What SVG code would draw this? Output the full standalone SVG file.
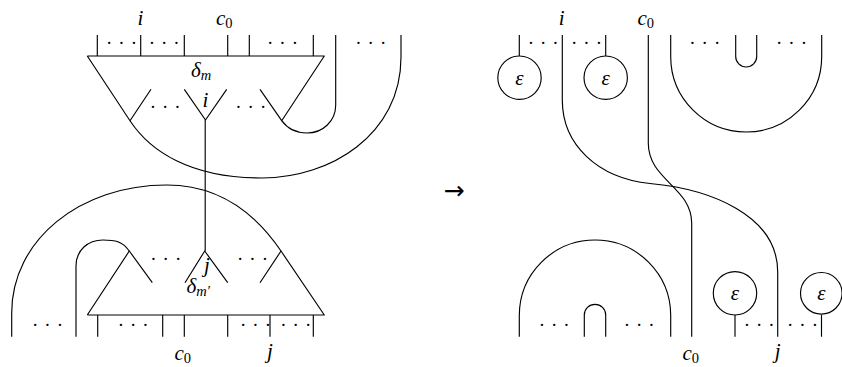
<svg xmlns="http://www.w3.org/2000/svg" width="842" height="367" viewBox="0 0 842 367">
<style>
.w{fill:none;stroke:#000;stroke-width:1.15;stroke-linejoin:round}
.t{font-family:"Liberation Serif",serif;font-size:21px;font-style:italic;fill:#000}
.s{font-size:14.5px;font-style:normal}
.si{font-size:14.5px;font-style:italic}
.d{font-family:"Liberation Serif",serif;font-size:19px;letter-spacing:6px;fill:#000}
.a{font-family:"DejaVu Sans",sans-serif;font-size:25px;fill:#000}
</style>
<rect width="842" height="367" fill="#fff"/>
<g id="connectors">
  <path class="w" d="M97.3,35V56M140.7,35V56M184.3,35V56M227.7,35V56M249.3,35V56M313.3,35V56"/>
  <path class="w" d="M335.7,35V105C335.7,121 323,133 307,133C296,133 287,128 281.7,120.7"/>
  <path class="w" d="M130,120.7C150,151 190,178 262,178C330,178 401,135 401,57V35"/>
  <path class="w" d="M205.2,120V251"/>
  <path class="w" d="M11.7,336.7V313C11.7,240 80,185 166.7,185C222,185 258,217 281,251"/>
  <path class="w" d="M76,336.7V266C76,250 88,240 103,240C115,240 122,241 129.3,251"/>
  <path class="w" d="M97.7,315V336.7M162.7,315V336.7M184.3,315V336.7M227.7,315V336.7M270,315V336.7M313.3,315V336.7"/>
  <path class="w" d="M519.3,35V56M605.7,35V56"/>
  <path class="w" d="M562.3,35V100C562.3,145 598,178 650,183.5C710,189 777.7,215 777.7,272V336.7"/>
  <path class="w" d="M648.3,35V143.3C648.3,180 691.7,187 691.7,223.3V336.7"/>
  <path class="w" d="M670.7,35V56.5A75.5,75.5 0 0 0 821.7,56.5V35"/>
  <path class="w" d="M735.7,35V56.5A10.5,10.5 0 0 0 756.7,56.5V35"/>
  <path class="w" d="M519.3,336.7V315.7A75.7,75.7 0 0 1 670.7,315.7V336.7"/>
  <path class="w" d="M584.3,336.7V315A10.7,10.7 0 0 1 605.7,315V336.7"/>
  <path class="w" d="M735,315V336.7M821.5,315V336.7"/>
</g>
<g id="delta-m">
  <path class="w" d="M87.3,56H324.3L281.7,120.7L260,89.3M87.3,56L130,120.7L151,89.3M184.3,89.3L205.5,120L226.7,89.3"/>
  <text class="t" x="191" y="77">δ<tspan class="si" dy="3">m</tspan></text>
  <text class="t" x="205.3" y="106.5" text-anchor="middle">i</text>
  <text class="d" x="149.7" y="113">···</text>
  <text class="d" x="235.3" y="113">···</text>
</g>
<g id="delta-m-prime">
  <path class="w" d="M87.3,315H324.3L281,251L260,282.7M87.3,315L129.3,251L152.3,282.7M185,282.7L204.7,251L227.7,282.7"/>
  <text class="t" x="186.5" y="292.7">δ<tspan class="si" dy="3">m′</tspan></text>
  <text class="t" x="207" y="272" text-anchor="middle">j</text>
  <text class="d" x="150.3" y="265.3">···</text>
  <text class="d" x="237" y="265.3">···</text>
</g>
<g id="left-labels">
  <text class="t" x="140.5" y="25" text-anchor="middle">i</text>
  <text class="t" x="216" y="25">c<tspan class="s" dy="3">0</tspan></text>
  <text class="d" x="106" y="48.5">···</text>
  <text class="d" x="148.7" y="48.5">···</text>
  <text class="d" x="267" y="48.5">···</text>
  <text class="d" x="355.3" y="48.5">···</text>
  <text class="d" x="32" y="331">···</text>
  <text class="d" x="117.7" y="331">···</text>
  <text class="d" x="240" y="331">···</text>
  <text class="d" x="280.3" y="331">···</text>
  <text class="t" x="174.5" y="360">c<tspan class="s" dy="3">0</tspan></text>
  <text class="t" x="270" y="358" text-anchor="middle">j</text>
</g>
<g id="arrow">
  <text class="a" x="454" y="199" text-anchor="middle">→</text>
</g>
<g id="eps-top-1">
  <circle class="w" cx="519.5" cy="77.7" r="21.7"/>
  <text class="t" x="519.5" y="84.5" text-anchor="middle">ε</text>
</g>
<g id="eps-top-2">
  <circle class="w" cx="605.7" cy="77.7" r="21.7"/>
  <text class="t" x="605.7" y="84.5" text-anchor="middle">ε</text>
</g>
<g id="eps-bottom-1">
  <circle class="w" cx="735" cy="293.3" r="21.7"/>
  <text class="t" x="735" y="300" text-anchor="middle">ε</text>
</g>
<g id="eps-bottom-2">
  <circle class="w" cx="821.3" cy="293.3" r="20.8"/>
  <text class="t" x="821.3" y="300" text-anchor="middle">ε</text>
</g>
<g id="right-labels">
  <text class="t" x="561.7" y="25" text-anchor="middle">i</text>
  <text class="t" x="637.5" y="25">c<tspan class="s" dy="3">0</tspan></text>
  <text class="d" x="527.7" y="48.5">···</text>
  <text class="d" x="571" y="48.5">···</text>
  <text class="d" x="689.3" y="48.5">···</text>
  <text class="d" x="776" y="48.5">···</text>
  <text class="d" x="538.7" y="331">···</text>
  <text class="d" x="623.7" y="331">···</text>
  <text class="d" x="743.7" y="331">···</text>
  <text class="d" x="787" y="331">···</text>
  <text class="t" x="682.5" y="360">c<tspan class="s" dy="3">0</tspan></text>
  <text class="t" x="777.7" y="358" text-anchor="middle">j</text>
</g>
</svg>
